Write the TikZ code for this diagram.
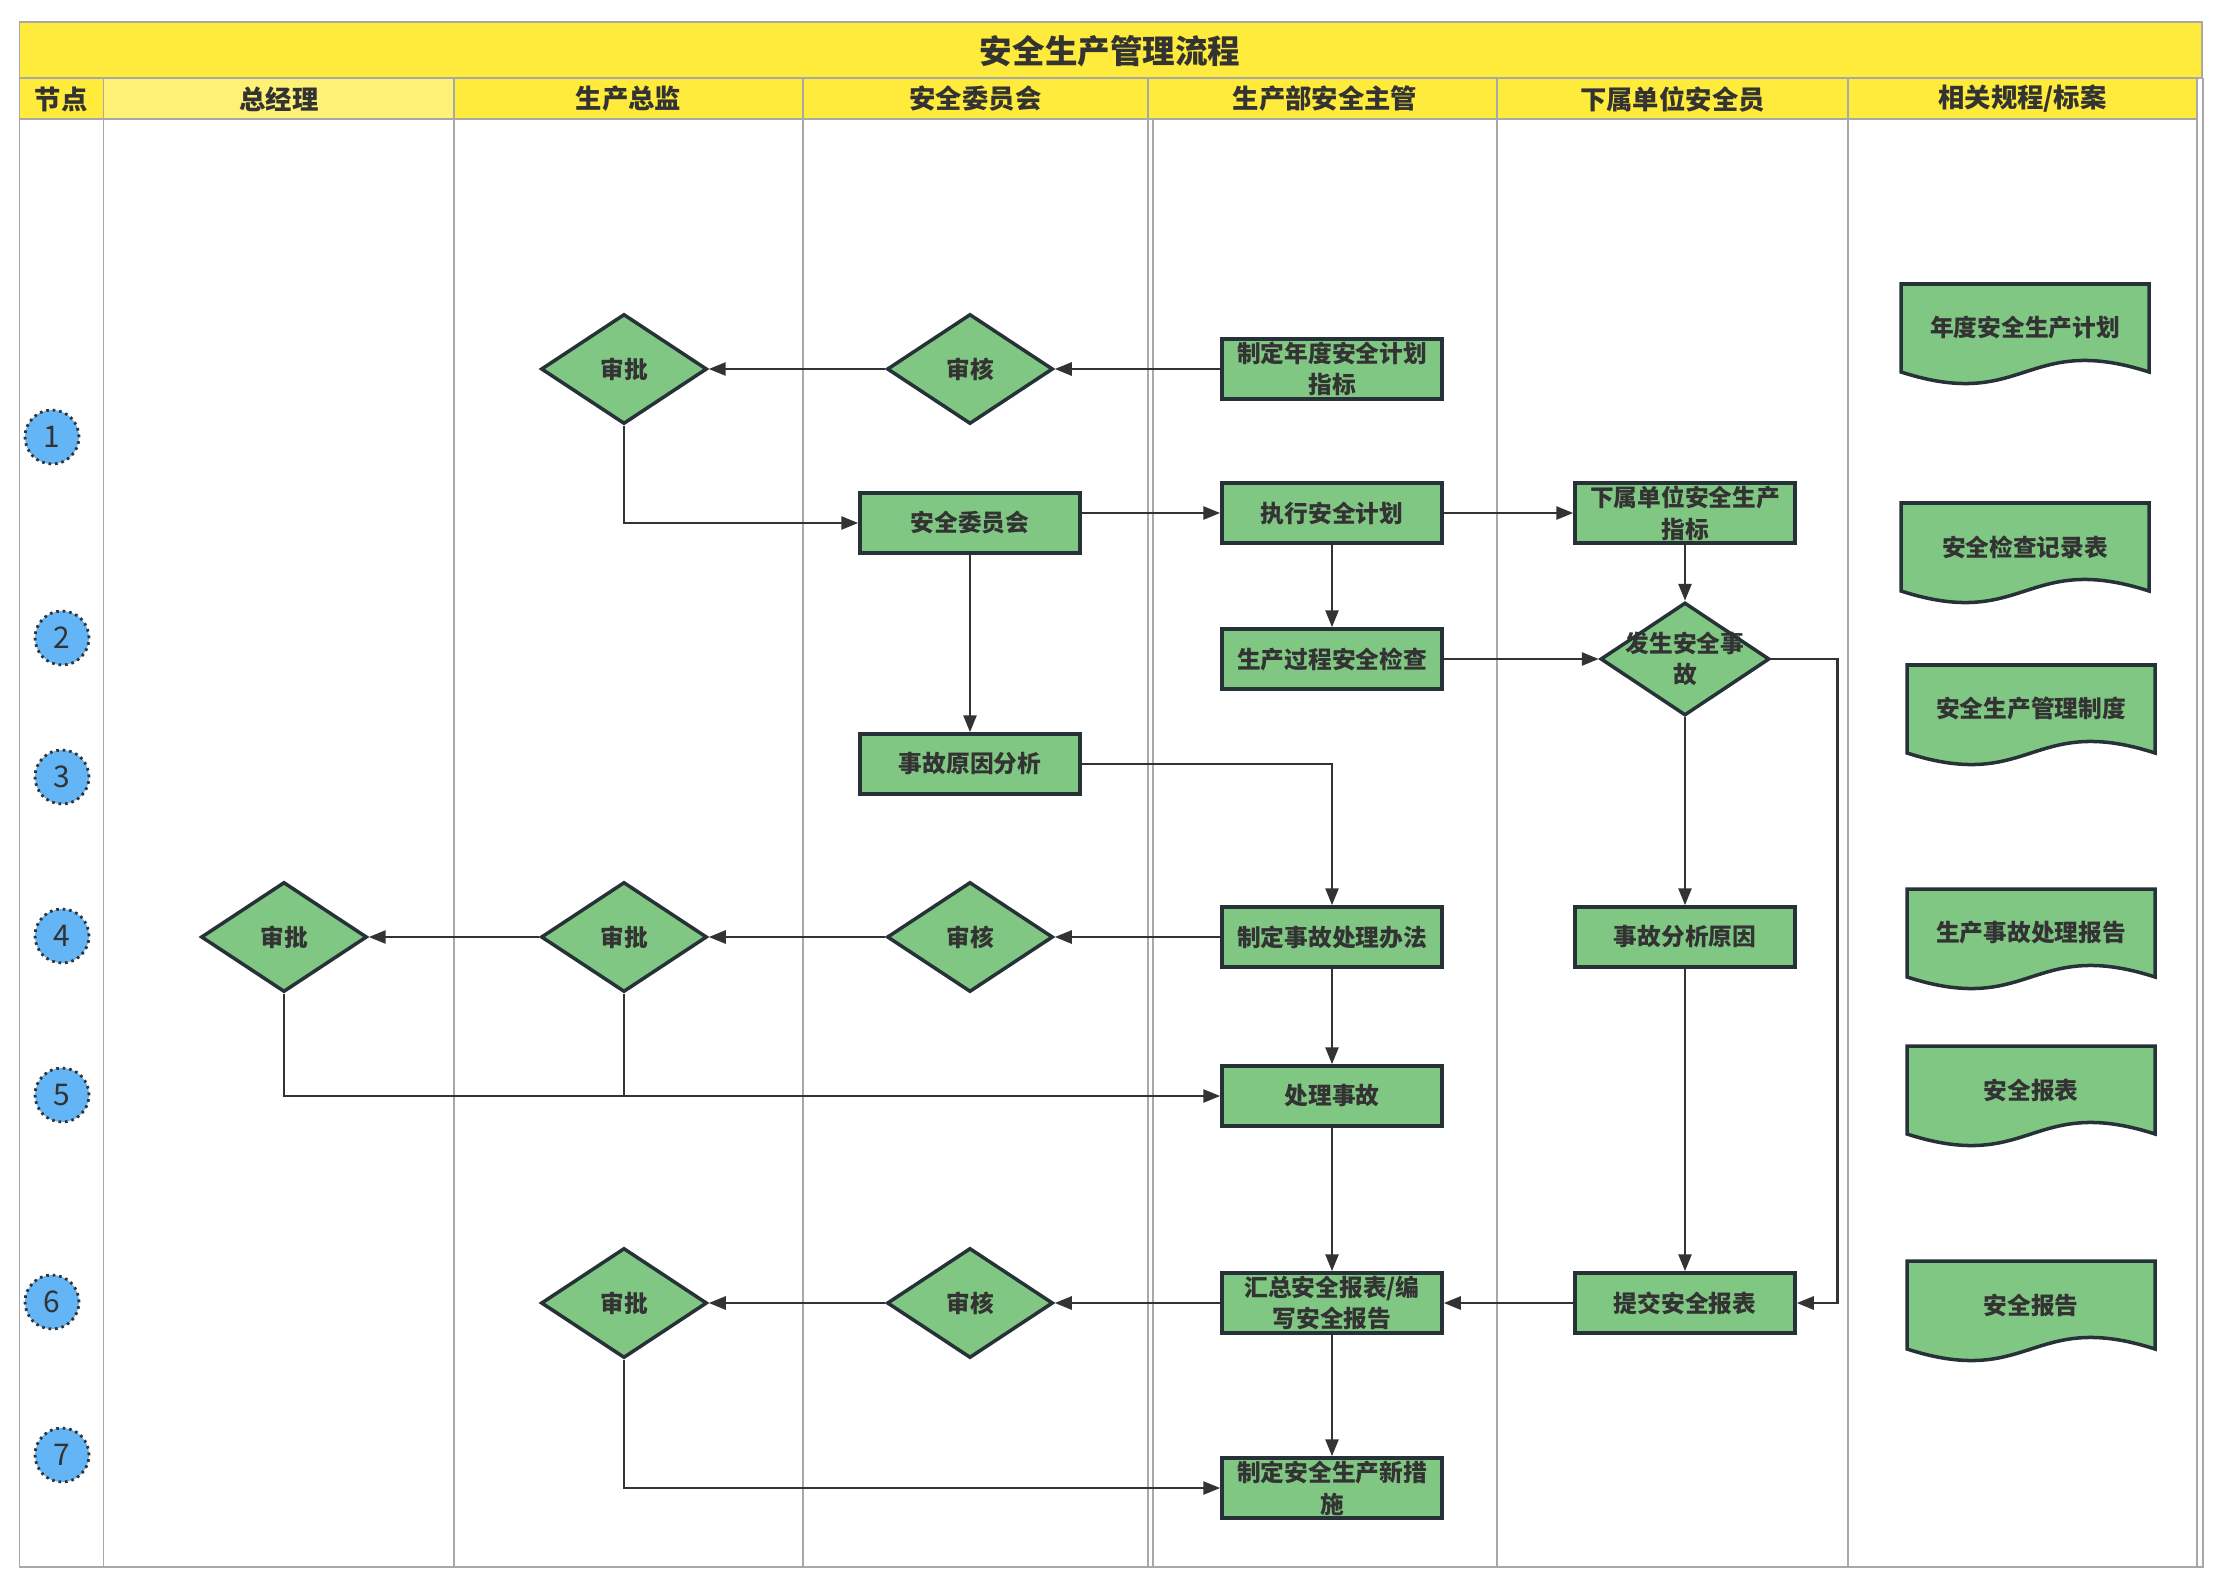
\documentclass[tikz,border=0pt]{standalone}
\usepackage{fontspec}
\setmainfont{Noto Sans CJK SC}
\usetikzlibrary{shapes.geometric,arrows.meta,positioning}
\definecolor{titleyellow}{HTML}{FFEB3B}
\definecolor{lightyellow}{HTML}{FFF176}
\definecolor{boxgreen}{HTML}{81C784}
\definecolor{stepblue}{HTML}{64B5F6}
\definecolor{edgedark}{HTML}{263238}
\definecolor{linedark}{HTML}{333333}
\definecolor{lanegrey}{HTML}{A8A8A8}
\newcommand{\flowfont}{\fontsize{13.5}{18}\selectfont\bfseries}

\begin{document}
\begin{tikzpicture}[x=0.02cm, y=-0.02cm,
    box/.style={rectangle, draw=edgedark, line width=2pt, fill=boxgreen, minimum width=4.4cm, minimum height=1.2cm, inner sep=0pt, align=center, text=linedark, font=\flowfont},
    decision/.style={diamond, draw=edgedark, line width=2pt, fill=boxgreen, minimum width=3.32cm, minimum height=2.2cm, inner sep=0pt, text=linedark, font=\flowfont},
    doc/.style={draw=edgedark, line width=2pt, fill=boxgreen},
    doctext/.style={text=linedark, font=\flowfont},
    stepno/.style={circle, draw=linedark, dash pattern=on 1.5pt off 2.2pt, line width=1.6pt, fill=stepblue, minimum size=1.08cm, inner sep=0pt, text=linedark, font=\fontsize{17}{20}\selectfont},
    headtext/.style={text=linedark, font=\fontsize{15}{18}\selectfont\bfseries},
    arrow/.style={-{Triangle[length=0.34cm,width=0.26cm]}, line width=1.5pt, draw=linedark},
    link/.style={line width=1.5pt, draw=linedark},
    lane/.style={draw=lanegrey, line width=1pt}
]
\useasboundingbox (0,0) rectangle (2224,1588);

% Title and header bands
\fill[titleyellow] (19.5,22) rectangle (2202,78);
\fill[titleyellow] (19.5,78) rectangle (2197,119);
\fill[lightyellow] (103.5,78) rectangle (454,119);
\draw[lane] (19.5,22) rectangle (2202,78);
\draw[lane] (19.5,119) -- (2197,119);
\draw[lane] (19.5,78) -- (19.5,1567) -- (2203,1567) -- (2203,78);
\foreach \x in {103.5,454,803,1148,1497,1848,2197} {
    \draw[lane] (\x,78) -- (\x,1567);
}
\draw[lane] (1153,119) -- (1153,1567);

\node[text=linedark, font=\fontsize{18.5}{22}\selectfont\bfseries] (title) at (1110,51) {安全生产管理流程};
\node[headtext] (h0) at (61,99) {节点};
\node[headtext] (h1) at (279,99) {总经理};
\node[headtext] (h2) at (628.5,99) {生产总监};
\node[headtext] (h3) at (975.5,99) {安全委员会};
\node[headtext] (h4) at (1325,99) {生产部安全主管};
\node[headtext] (h5) at (1672.5,99) {下属单位安全员};
\node[headtext] (h6) at (2022.5,99) {相关规程/标案};

% Step numbers
\foreach \n/\x/\y in {1/52/437, 2/62/638, 3/62/777, 4/62/936, 5/62/1095, 6/52/1302, 7/62/1455} {
    \node[stepno] (s\n) at (\x,\y) {\n};
}

% Flow nodes
\node[box] (plan) at (1332,369) {制定年度安全计划\\指标};
\node[decision] (rev1) at (970,369) {审核};
\node[decision] (app1) at (624,369) {审批};
\node[box] (comm) at (970,523) {安全委员会};
\node[box] (exec) at (1332,513) {执行安全计划};
\node[box] (subidx) at (1685,513) {下属单位安全生产\\指标};
\node[box] (check) at (1332,659) {生产过程安全检查};
\node[decision, minimum width=3.38cm, minimum height=2.26cm,
      label={[text=linedark, font=\flowfont, align=center]center:{发生安全事\\故}}] (acc) at (1685,659) {};
\node[box] (cause) at (970,764) {事故原因分析};
\node[box] (measure) at (1332,937) {制定事故处理办法};
\node[box] (analy) at (1685,937) {事故分析原因};
\node[decision] (rev4) at (970,937) {审核};
\node[decision] (app4) at (624,937) {审批};
\node[decision] (app4gm) at (284,937) {审批};
\node[box] (handle) at (1332,1096) {处理事故};
\node[box] (summ) at (1332,1303) {汇总安全报表/编\\写安全报告};
\node[box] (submit) at (1685,1303) {提交安全报表};
\node[decision] (rev6) at (970,1303) {审核};
\node[decision] (app6) at (624,1303) {审批};
\node[box] (newm) at (1332,1488) {制定安全生产新措\\施};

% Related documents
\foreach \x/\t/\txt [count=\i] in {1901/284/年度安全生产计划, 1901/503/安全检查记录表, 1907/665/安全生产管理制度, 1907/889/生产事故处理报告, 1907/1046/安全报表, 1907/1261/安全报告} {
    \draw[doc] (\x,\t) -- (\x+248,\t) -- (\x+248,\t+88) .. controls (\x+124,\t+48) and (\x+124,\t+128) .. (\x,\t+88) -- cycle;
    \node[doctext] (doc\i) at (\x+124,\t+44) {\txt};
}

% Connectors
\draw[arrow] (plan.west) -- (rev1.east);
\draw[arrow] (rev1.west) -- (app1.east);
\draw[arrow] (app1.south) |- (comm.west);
\draw[arrow] (comm.east |- exec.west) -- (exec.west);
\draw[arrow] (exec) -- (subidx);
\draw[arrow] (exec) -- (check);
\draw[arrow] (subidx) -- (acc);
\draw[arrow] (check) -- (acc);
\draw[arrow] (acc.east) -- ++(66,0) |- (submit.east);
\draw[arrow] (acc) -- (analy);
\draw[arrow] (analy) -- (submit);
\draw[arrow] (submit) -- (summ);
\draw[arrow] (comm) -- (cause);
\draw[arrow] (cause.east) -| (measure.north);
\draw[arrow] (measure) -- (rev4);
\draw[arrow] (rev4) -- (app4);
\draw[arrow] (app4) -- (app4gm);
\draw[arrow] (app4gm.south) |- (handle.west);
\draw[link] (app4.south) -- (app4.south |- handle.west);
\draw[arrow] (measure) -- (handle);
\draw[arrow] (handle) -- (summ);
\draw[arrow] (summ) -- (rev6);
\draw[arrow] (rev6) -- (app6);
\draw[arrow] (app6.south) |- (newm.west);
\draw[arrow] (summ) -- (newm);

\end{tikzpicture}
\end{document}
